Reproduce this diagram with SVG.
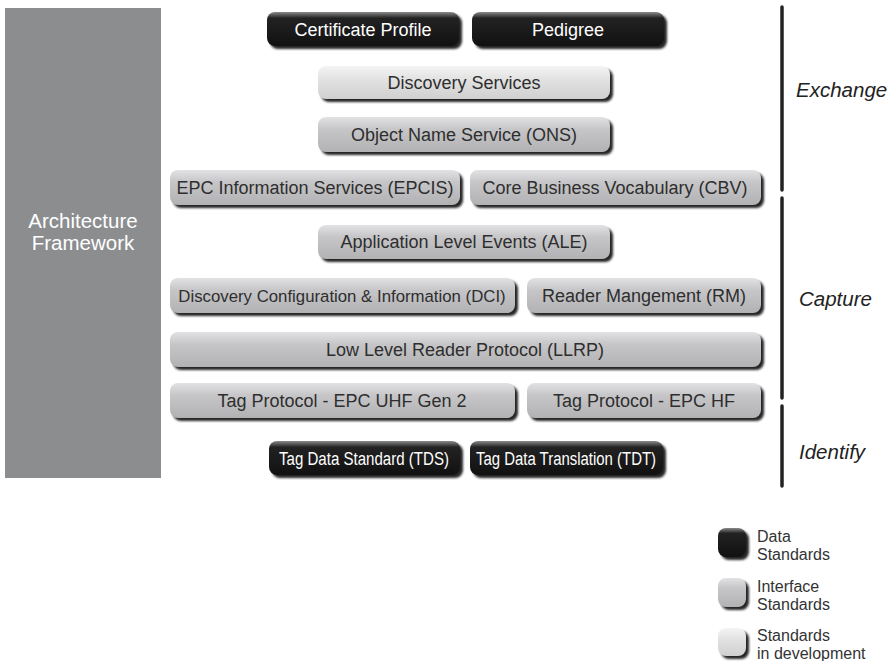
<svg xmlns="http://www.w3.org/2000/svg" width="896" height="661" viewBox="0 0 896 661">
<defs>
<linearGradient id="gMid" x1="0" y1="0" x2="0" y2="1">
<stop offset="0" stop-color="#e2e2e4"/>
<stop offset="0.35" stop-color="#c6c6c8"/>
<stop offset="1" stop-color="#b2b2b4"/>
</linearGradient>
<linearGradient id="gLight" x1="0" y1="0" x2="0" y2="1">
<stop offset="0" stop-color="#f4f4f4"/>
<stop offset="0.4" stop-color="#e2e2e2"/>
<stop offset="1" stop-color="#d0d0d0"/>
</linearGradient>
<linearGradient id="gDark" x1="0" y1="0" x2="0" y2="1">
<stop offset="0" stop-color="#8a8a8a"/>
<stop offset="0.18" stop-color="#222"/>
<stop offset="1" stop-color="#111"/>
</linearGradient>
<filter id="soft" x="-5%" y="-20%" width="110%" height="140%">
<feGaussianBlur stdDeviation="0.8"/>
</filter>
</defs>
<style>
.sh{fill:#262626;filter:url(#soft)}
.mid{fill:url(#gMid)}
.light{fill:url(#gLight)}
.dark{fill:url(#gDark)}
.t{font-family:"Liberation Sans",Arial,sans-serif;font-size:18px;fill:#2e2e2e;text-anchor:middle}
.tw{font-family:"Liberation Sans",Arial,sans-serif;font-size:18px;fill:#ffffff;text-anchor:middle}
.lay{font-family:"Liberation Sans",Arial,sans-serif;font-size:20.5px;font-style:italic;fill:#222}
.leg{font-family:"Liberation Sans",Arial,sans-serif;font-size:16px;fill:#333}
.bar{stroke:#222;stroke-width:3.5;stroke-linecap:round}
</style>
<rect width="896" height="661" fill="#ffffff"/>

<g id="architecture-framework">
<rect x="5" y="8" width="156" height="470" fill="#8c8d8f"/>
<text x="83" y="228" font-family="Liberation Sans,Arial,sans-serif" font-size="20.5" fill="#ffffff" text-anchor="middle">Architecture</text>
<text x="83" y="250" font-family="Liberation Sans,Arial,sans-serif" font-size="20.5" fill="#ffffff" text-anchor="middle">Framework</text>
</g>

<g id="certificate-profile">
<rect class="sh" x="270" y="15" width="192" height="34" rx="8"/>
<rect class="dark" x="267" y="12" width="192" height="34" rx="8"/>
<text class="tw" x="363" y="36">Certificate Profile</text>
</g>
<g id="pedigree">
<rect class="sh" x="475" y="15" width="192" height="34" rx="8"/>
<rect class="dark" x="472" y="12" width="192" height="34" rx="8"/>
<text class="tw" x="568" y="36">Pedigree</text>
</g>

<g id="discovery-services">
<rect class="sh" x="321" y="69" width="292" height="33" rx="8"/>
<rect class="light" x="318" y="66" width="292" height="33" rx="8"/>
<text class="t" x="464" y="89">Discovery Services</text>
</g>

<g id="ons">
<rect class="sh" x="321" y="120" width="292" height="35" rx="8"/>
<rect class="mid" x="318" y="117" width="292" height="35" rx="8"/>
<text class="t" x="464" y="141">Object Name Service (ONS)</text>
</g>

<g id="epcis">
<rect class="sh" x="173" y="173" width="290" height="35" rx="8"/>
<rect class="mid" x="170" y="170" width="290" height="35" rx="8"/>
<text class="t" x="315" y="194">EPC Information Services (EPCIS)</text>
</g>
<g id="cbv">
<rect class="sh" x="473" y="173" width="291" height="35" rx="8"/>
<rect class="mid" x="470" y="170" width="291" height="35" rx="8"/>
<text class="t" x="615" y="194">Core Business Vocabulary (CBV)</text>
</g>

<g id="ale">
<rect class="sh" x="321" y="228" width="292" height="34" rx="8"/>
<rect class="mid" x="318" y="225" width="292" height="34" rx="8"/>
<text class="t" x="464" y="248">Application Level Events (ALE)</text>
</g>

<g id="dci">
<rect class="sh" x="173" y="281" width="345" height="35" rx="8"/>
<rect class="mid" x="170" y="278" width="345" height="35" rx="8"/>
<text class="t" x="342" y="302" style="font-size:16.8px">Discovery Configuration &amp; Information (DCI)</text>
</g>
<g id="rm">
<rect class="sh" x="530" y="281" width="234" height="35" rx="8"/>
<rect class="mid" x="527" y="278" width="234" height="35" rx="8"/>
<text class="t" x="644" y="302">Reader Mangement (RM)</text>
</g>

<g id="llrp">
<rect class="sh" x="173" y="335" width="591" height="35" rx="8"/>
<rect class="mid" x="170" y="332" width="591" height="35" rx="8"/>
<text class="t" x="465" y="356">Low Level Reader Protocol (LLRP)</text>
</g>

<g id="tag-uhf">
<rect class="sh" x="173" y="386" width="345" height="35" rx="8"/>
<rect class="mid" x="170" y="383" width="345" height="35" rx="8"/>
<text class="t" x="342" y="407">Tag Protocol - EPC UHF Gen 2</text>
</g>
<g id="tag-hf">
<rect class="sh" x="530" y="386" width="234" height="35" rx="8"/>
<rect class="mid" x="527" y="383" width="234" height="35" rx="8"/>
<text class="t" x="644" y="407">Tag Protocol - EPC HF</text>
</g>

<g id="tds">
<rect class="sh" x="272" y="444" width="191" height="34" rx="8"/>
<rect class="dark" x="269" y="441" width="191" height="34" rx="8"/>
<text class="tw" x="364" y="465" textLength="170" lengthAdjust="spacingAndGlyphs">Tag Data Standard (TDS)</text>
</g>
<g id="tdt">
<rect class="sh" x="473" y="444" width="193" height="34" rx="8"/>
<rect class="dark" x="470" y="441" width="193" height="34" rx="8"/>
<text class="tw" x="566" y="465" textLength="180" lengthAdjust="spacingAndGlyphs">Tag Data Translation (TDT)</text>
</g>

<g id="layers">
<line class="bar" x1="782" y1="7" x2="782" y2="190"/>
<line class="bar" x1="782" y1="198" x2="782" y2="398"/>
<line class="bar" x1="782" y1="406" x2="782" y2="486"/>
<text class="lay" x="796" y="97">Exchange</text>
<text class="lay" x="799" y="306">Capture</text>
<text class="lay" x="799" y="459">Identify</text>
</g>

<g id="legend">
<rect class="sh" x="721" y="531" width="28" height="29" rx="8"/>
<rect class="dark" x="718" y="528" width="28" height="29" rx="8"/>
<text class="leg" x="757" y="542">Data</text>
<text class="leg" x="757" y="560">Standards</text>
<rect class="sh" x="721" y="581" width="28" height="29" rx="8"/>
<rect class="mid" x="718" y="578" width="28" height="29" rx="8"/>
<text class="leg" x="757" y="592">Interface</text>
<text class="leg" x="757" y="610">Standards</text>
<rect class="sh" x="721" y="631" width="28" height="28" rx="8"/>
<rect class="light" x="718" y="628" width="28" height="28" rx="8"/>
<text class="leg" x="757" y="641">Standards</text>
<text class="leg" x="757" y="659">in development</text>
</g>
</svg>
